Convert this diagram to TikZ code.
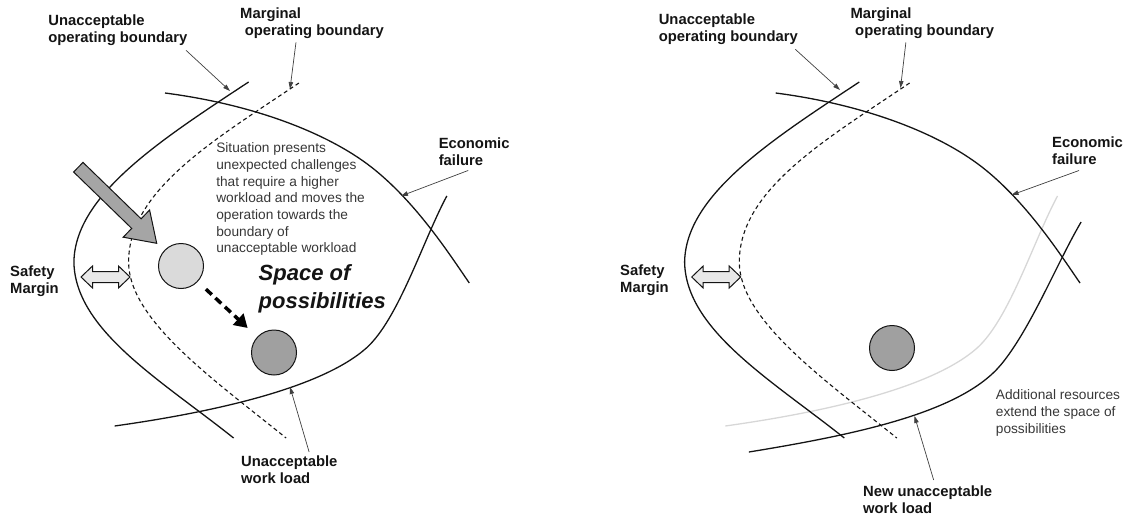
\documentclass[tikz,border=0pt]{standalone}
\usepackage{fontspec}
\setmainfont{Liberation Sans}
\usetikzlibrary{arrows.meta}

\definecolor{ink}{RGB}{20,20,20}
\definecolor{note}{RGB}{55,55,55}
\definecolor{lightdisc}{RGB}{218,218,218}
\definecolor{darkdisc}{RGB}{160,160,160}
\definecolor{pushfill}{RGB}{165,165,165}
\definecolor{oldload}{RGB}{215,215,215}
\definecolor{marginfill}{RGB}{232,232,232}

\begin{document}
\begin{tikzpicture}[x=1pt,y=-1pt,
  tag/.style={anchor=north west, inner sep=0pt, align=left, text=ink,
    font=\fontsize{14.8}{16.6}\selectfont\bfseries},
  remark/.style={anchor=north west, inner sep=0pt, align=left, text=note,
    font=\fontsize{13.7}{16.7}\selectfont},
  headline/.style={anchor=north west, inner sep=0pt, align=left, text=ink,
    font=\fontsize{22}{28}\selectfont\bfseries\itshape},
  boundary/.style={line width=1.3pt, draw=ink},
  marginline/.style={line width=1.1pt, draw=ink, dash pattern=on 4pt off 3pt},
  leader/.style={line width=0.7pt, draw=black!75, -{Triangle[length=7pt,width=4.5pt]}},
  disc/.style={circle, draw=ink, line width=1pt, minimum size=45pt, inner sep=0pt},
  shift arrow/.style={line width=3.5pt, draw=black, dash pattern=on 8pt off 5pt,
    -{Triangle[length=13pt,width=15pt]}, shorten <=11pt, shorten >=13pt},
  outline/.style={draw=ink, line width=1pt, line join=miter}
]
\useasboundingbox (0,0) rectangle (1129,519);

% ---------------- left panel ----------------
% boundaries
\draw[boundary] (248.6,82) .. controls (160.7,140) and (75,195) .. (73.9,262)
  .. controls (75,330) and (160.7,380) .. (233.6,438);
\draw[marginline] (298.9,83) .. controls (214.3,140) and (128.6,190) .. (128.6,262)
  .. controls (128.6,320) and (214.3,380) .. (286.1,438);
\draw[boundary] (165,93) .. controls (257.1,105) and (332.1,135) .. (375,170)
  .. controls (417.9,205) and (450,255) .. (469.3,283);
\draw[boundary] (114.6,426) .. controls (214.3,412) and (321.4,388) .. (366.4,348)
  .. controls (398.6,319) and (423.2,240) .. (446.8,196);

% pressure arrow
\draw[outline, fill=pushfill] (83.0,162.4) -- (141.1,218.8) -- (149.6,210.0) -- (156.7,243.3)
  -- (123.2,237.2) -- (131.7,228.4) -- (73.6,172.0) -- cycle;

% safety margin arrow
\draw[outline, fill=marginfill] (81,277) -- (92.5,266) -- (92.5,271.5) -- (118.5,271.5) -- (118.5,266)
  -- (130,277) -- (118.5,288) -- (118.5,282.5) -- (92.5,282.5) -- (92.5,288) -- cycle;

% operating points
\node[disc, fill=lightdisc] (now) at (181,266) {};
\node[disc, fill=darkdisc] (later) at (274,352.5) {};
\draw[shift arrow] (now) -- (later);

% texts
\node[tag] (uobL) at (48.2,15) {Unacceptable\\operating boundary};
\node[tag] (mobL) at (240,8) {Marginal\\\hspace*{4.6pt}operating boundary};
\node[tag] (efL) at (438.6,138) {Economic\\failure};
\node[tag] (smL) at (10,266) {Safety\\Margin};
\node[tag] (uwlL) at (241,456) {Unacceptable\\work load};
\node[remark] (sit) at (216.1,142.5) {Situation presents\\unexpected challenges\\that require a higher\\workload and moves the\\operation towards the\\boundary of\\unacceptable workload};
\node[headline] (sop) at (258.5,264) {Space of\\possibilities};

% leaders
\coordinate (uobLtip) at (230,91);
\coordinate (mobLtip) at (290,89);
\coordinate (efLtip) at (401,196);
\coordinate (uwlLtip) at (290,387);
\draw[leader] ([xshift=-1.5pt,yshift=-4.5pt]uobL.south east) -- (uobLtip);
\draw[leader] ([xshift=-16pt,yshift=-3.5pt]mobL.south) -- (mobLtip);
\draw[leader] ([xshift=-6pt,yshift=-4.6pt]efL.south) -- (efLtip);
\draw[leader] ([xshift=19.8pt,yshift=4pt]uwlL.north) -- (uwlLtip);

% ---------------- right panel ----------------
\begin{scope}[xshift=610.7pt]
  \draw[line width=1.3pt, draw=oldload] (114.6,426) .. controls (214.3,412) and (321.4,388) .. (366.4,348)
    .. controls (398.6,319) and (423.2,240) .. (446.8,196);
  \draw[boundary] (248.6,82) .. controls (160.7,140) and (75,195) .. (73.9,262)
    .. controls (75,330) and (160.7,380) .. (233.6,438);
  \draw[marginline] (298.9,83) .. controls (214.3,140) and (128.6,190) .. (128.6,262)
    .. controls (128.6,320) and (214.3,380) .. (286.1,438);
  \draw[boundary] (165,93) .. controls (257.1,105) and (332.1,135) .. (375,170)
    .. controls (417.9,205) and (450,255) .. (469.3,283);
  \draw[outline, fill=marginfill] (81,277) -- (92.5,266) -- (92.5,271.5) -- (118.5,271.5) -- (118.5,266)
    -- (130,277) -- (118.5,288) -- (118.5,282.5) -- (92.5,282.5) -- (92.5,288) -- cycle;
\end{scope}
% extended workload boundary
\draw[boundary] (748.9,452) .. controls (859.3,434) and (961.1,412) .. (1000.7,365)
  .. controls (1030.7,329) and (1057.5,262) .. (1081.1,222);

\node[disc, fill=darkdisc] (kept) at (892,348) {};

\node[tag] (uobR) at (658.6,14) {Unacceptable\\operating boundary};
\node[tag] (mobR) at (850.4,8) {Marginal\\\hspace*{4.6pt}operating boundary};
\node[tag] (efR) at (1052,137) {Economic\\failure};
\node[tag] (smR) at (620,265) {Safety\\Margin};
\node[tag] (nwlR) at (862.9,486) {New unacceptable\\work load};
\node[remark] (extra) at (995.7,389.5) {Additional resources\\extend the space of\\possibilities};

\coordinate (uobRtip) at (840,90);
\coordinate (mobRtip) at (900.5,88);
\coordinate (efRtip) at (1011.5,195);
\coordinate (nwlRtip) at (914.5,416);
\draw[leader] ([xshift=-2.6pt,yshift=-4.5pt]uobR.south east) -- (uobRtip);
\draw[leader] ([xshift=-16.5pt,yshift=-3.5pt]mobR.south) -- (mobRtip);
\draw[leader] ([xshift=-8.5pt,yshift=-5.6pt]efR.south) -- (efRtip);
\draw[leader] ([xshift=6pt,yshift=6pt]nwlR.north) -- (nwlRtip);
\end{tikzpicture}
\end{document}
